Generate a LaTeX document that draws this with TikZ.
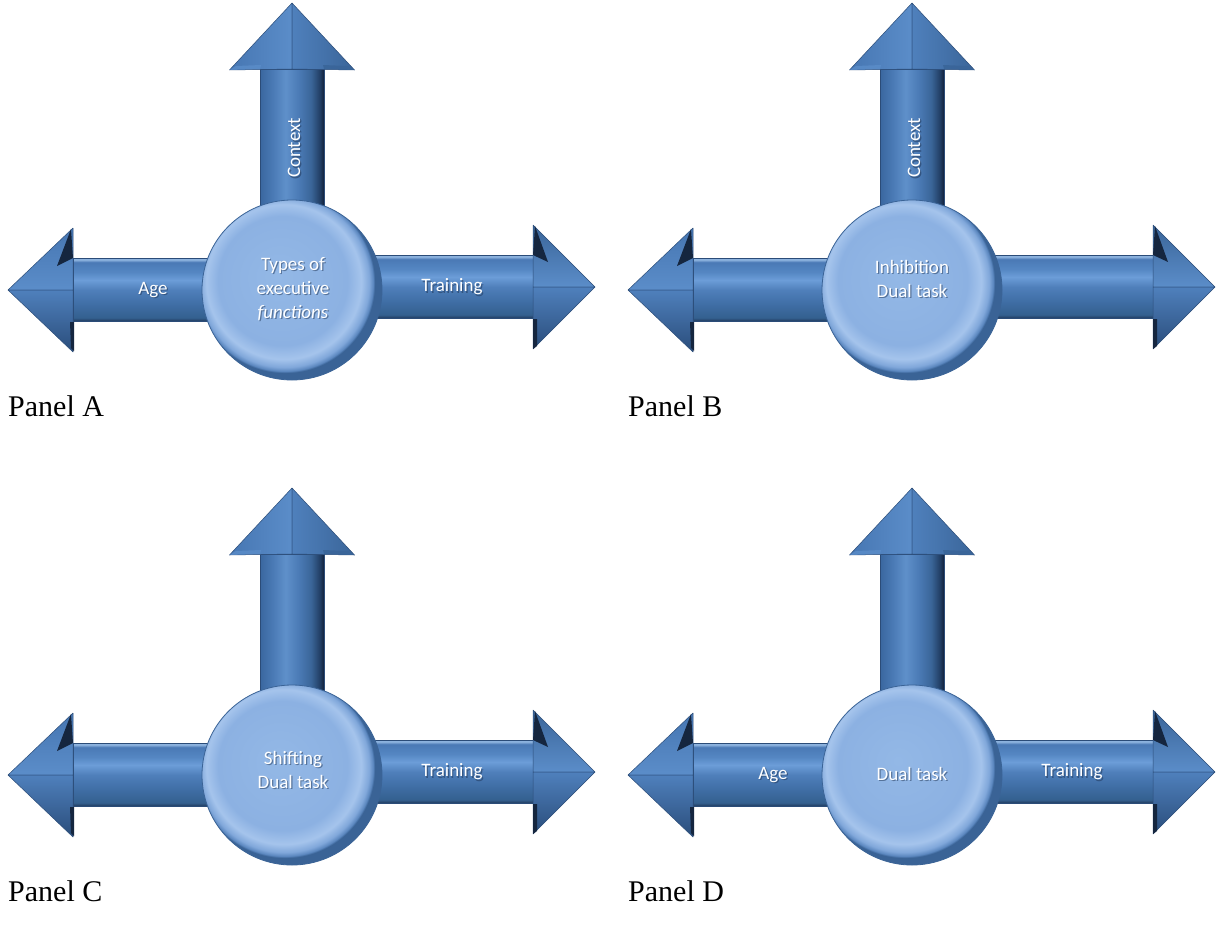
\documentclass[tikz,border=0pt]{standalone}
\usepackage{fontspec}
\setmainfont{Liberation Serif}
\newfontfamily\calib{Carlito}
\definecolor{hs0}{HTML}{1F3758}
\definecolor{hs1}{HTML}{34608F}
\definecolor{hs2}{HTML}{4170A8}
\definecolor{hs3}{HTML}{4F7FBA}
\definecolor{hs4}{HTML}{6C9DD8}
\definecolor{hs5}{HTML}{5587C3}
\definecolor{hs6}{HTML}{4A79B5}
\definecolor{hs7}{HTML}{8CB2DE}
\definecolor{vs0}{HTML}{3A679F}
\definecolor{vs1}{HTML}{4A7AB5}
\definecolor{vs2}{HTML}{5F90CA}
\definecolor{vs3}{HTML}{4B7BB6}
\definecolor{vs4}{HTML}{3A6598}
\definecolor{vs5}{HTML}{213D63}
\definecolor{vs6}{HTML}{12213A}
\definecolor{edgec}{HTML}{2B4C78}
\definecolor{ballc}{HTML}{93B8E6}
\definecolor{ballm}{HTML}{8CB1E2}
\definecolor{balll}{HTML}{A5C4EC}
\definecolor{ballk}{HTML}{80A7DA}
\definecolor{balle}{HTML}{5A86BE}
\definecolor{ballo}{HTML}{3A6396}
\definecolor{shc}{HTML}{1C3252}
\definecolor{navy}{HTML}{15263F}
\definecolor{hA}{HTML}{4676B2}
\definecolor{hB}{HTML}{5B8DC9}
\definecolor{hC}{HTML}{4F80BC}
\definecolor{hD}{HTML}{2A4D7B}
\definecolor{hE}{HTML}{3A6599}
\pgfdeclareverticalshading{hshaft}{100bp}{color(0bp)=(hs0); color(25bp)=(hs0); color(28bp)=(hs1); color(40bp)=(hs2); color(50bp)=(hs3); color(58bp)=(hs4); color(64bp)=(hs5); color(72bp)=(hs6); color(74bp)=(hs7); color(100bp)=(hs7)}
\pgfdeclarehorizontalshading{vshaft}{100bp}{color(0bp)=(vs0); color(25bp)=(vs0); color(35bp)=(vs1); color(45bp)=(vs2); color(55bp)=(vs3); color(65bp)=(vs4); color(72bp)=(vs5); color(75bp)=(vs6); color(100bp)=(vs6)}
\pgfdeclareradialshading{ballsh}{\pgfpoint{-4bp}{4bp}}{color(0bp)=(ballc); color(18bp)=(ballm); color(21.5bp)=(balll); color(23.6bp)=(ballk); color(24.6bp)=(balle); color(25bp)=(ballo); color(50bp)=(ballo)}
\tikzset{
  shaftH/.style={shading=hshaft, draw=edgec, line width=0.5pt},
  shaftV/.style={shading=vshaft, draw=edgec, line width=0.5pt},
  facet/.style={draw=edgec, line width=0.5pt, line join=round},
  lbl/.style={font=\calib\fontsize{19}{24}\selectfont, text=white, inner sep=0pt, align=center},
  lblsh/.style={lbl, text=shc, opacity=0.5, xshift=1.2pt, yshift=-1.2pt},
  plabel/.style={font=\fontsize{30}{36}\selectfont, anchor=base west, inner sep=0pt},
}
\newcommand{\panelshape}[3]{%
 \begin{scope}[shift={(#1,#2)}]
  % up arrow
  \shade[shaftV] (-32,0) rectangle (32,-221);
  \shade[facet, left color=hA, right color=hB] (0,-287) -- (-62.5,-220) -- (0,-221) -- cycle;
  \shade[facet, left color=hC, right color=hE] (0,-287) -- (0,-221) -- (62.5,-220) -- cycle;
  \fill[hB, opacity=0.8] (-62.5,-220) -- (-32,-221) -- (-31,-225) -- (-56,-224) -- cycle;
  \fill[hE, opacity=0.9] (62.5,-220) -- (32,-221) -- (31,-225) -- (56,-224) -- cycle;
  % left arrow
  \shade[shaftH] (-219,-31.5) rectangle (0,31.5);
  \shade[facet, top color=hA, bottom color=hB] (-284,0) -- (-219,-62) -- (-219,0) -- cycle;
  \shade[facet, top color=hC, bottom color=hD] (-284,0) -- (-219,0) -- (-219,62) -- cycle;
  \fill[navy] (-221,-61) -- (-219,-32) -- (-235,-24) -- cycle;
  \fill[navy] (-222,32) -- (-218,32) -- (-218,61) -- (-221,58) -- cycle;
  % right arrow
  \shade[shaftH] (0,-34.5) rectangle (241,28.5);
  \shade[facet, top color=hE, bottom color=hB] (303,-3) -- (241,-65) -- (241,-3) -- cycle;
  \shade[facet, top color=hC, bottom color=hD] (303,-3) -- (241,-3) -- (241,59) -- cycle;
  \fill[navy] (243,-64) -- (241,-35) -- (256,-28) -- cycle;
  \fill[navy] (241,29) -- (245,29) -- (245,56) -- (241,59) -- cycle;
  % hub
  \shade[shading=ballsh, draw=ballo, line width=0.8pt] (0,0) circle (90);
  \coordinate (hub#3) at (0,0);
 \end{scope}}
\newcommand{\lab}[4]{%
  \node[lblsh, rotate=#3] at (#2) {#4};
  \node[lbl, rotate=#3] (#1) at (#2) {#4};}
\begin{document}
\begin{tikzpicture}[x=1pt,y=-1pt]
\useasboundingbox[fill=white] (0,0) rectangle (1217,937);
% Panel A
\panelshape{292}{290}{A}
\lab{ctxA}{294,148}{90}{Context}
\lab{ageA}{153,290}{0}{Age}
\lab{trA}{452,287}{0}{Training}
\lab{cenA}{293,289}{0}{Types of\\executive\\\itshape functions}
\node[plabel] (pA) at (8,416) {Panel A};
% Panel B
\panelshape{912}{290}{B}
\lab{ctxB}{914,148}{90}{Context}
\lab{cenB}{912,279}{0}{Inhibition\\Dual task}
\node[plabel] (pB) at (628,416) {Panel B};
% Panel C
\panelshape{292}{775}{C}
\lab{trC}{452,772}{0}{Training}
\lab{cenC}{293,770}{0}{Shifting\\Dual task}
\node[plabel] (pC) at (8,901) {Panel C};
% Panel D
\panelshape{912}{775}{D}
\lab{ageD}{773,775}{0}{Age}
\lab{trD}{1072,772}{0}{Training}
\lab{cenD}{912,774}{0}{Dual task}
\node[plabel] (pD) at (628,901) {Panel D};
\end{tikzpicture}
\end{document}
